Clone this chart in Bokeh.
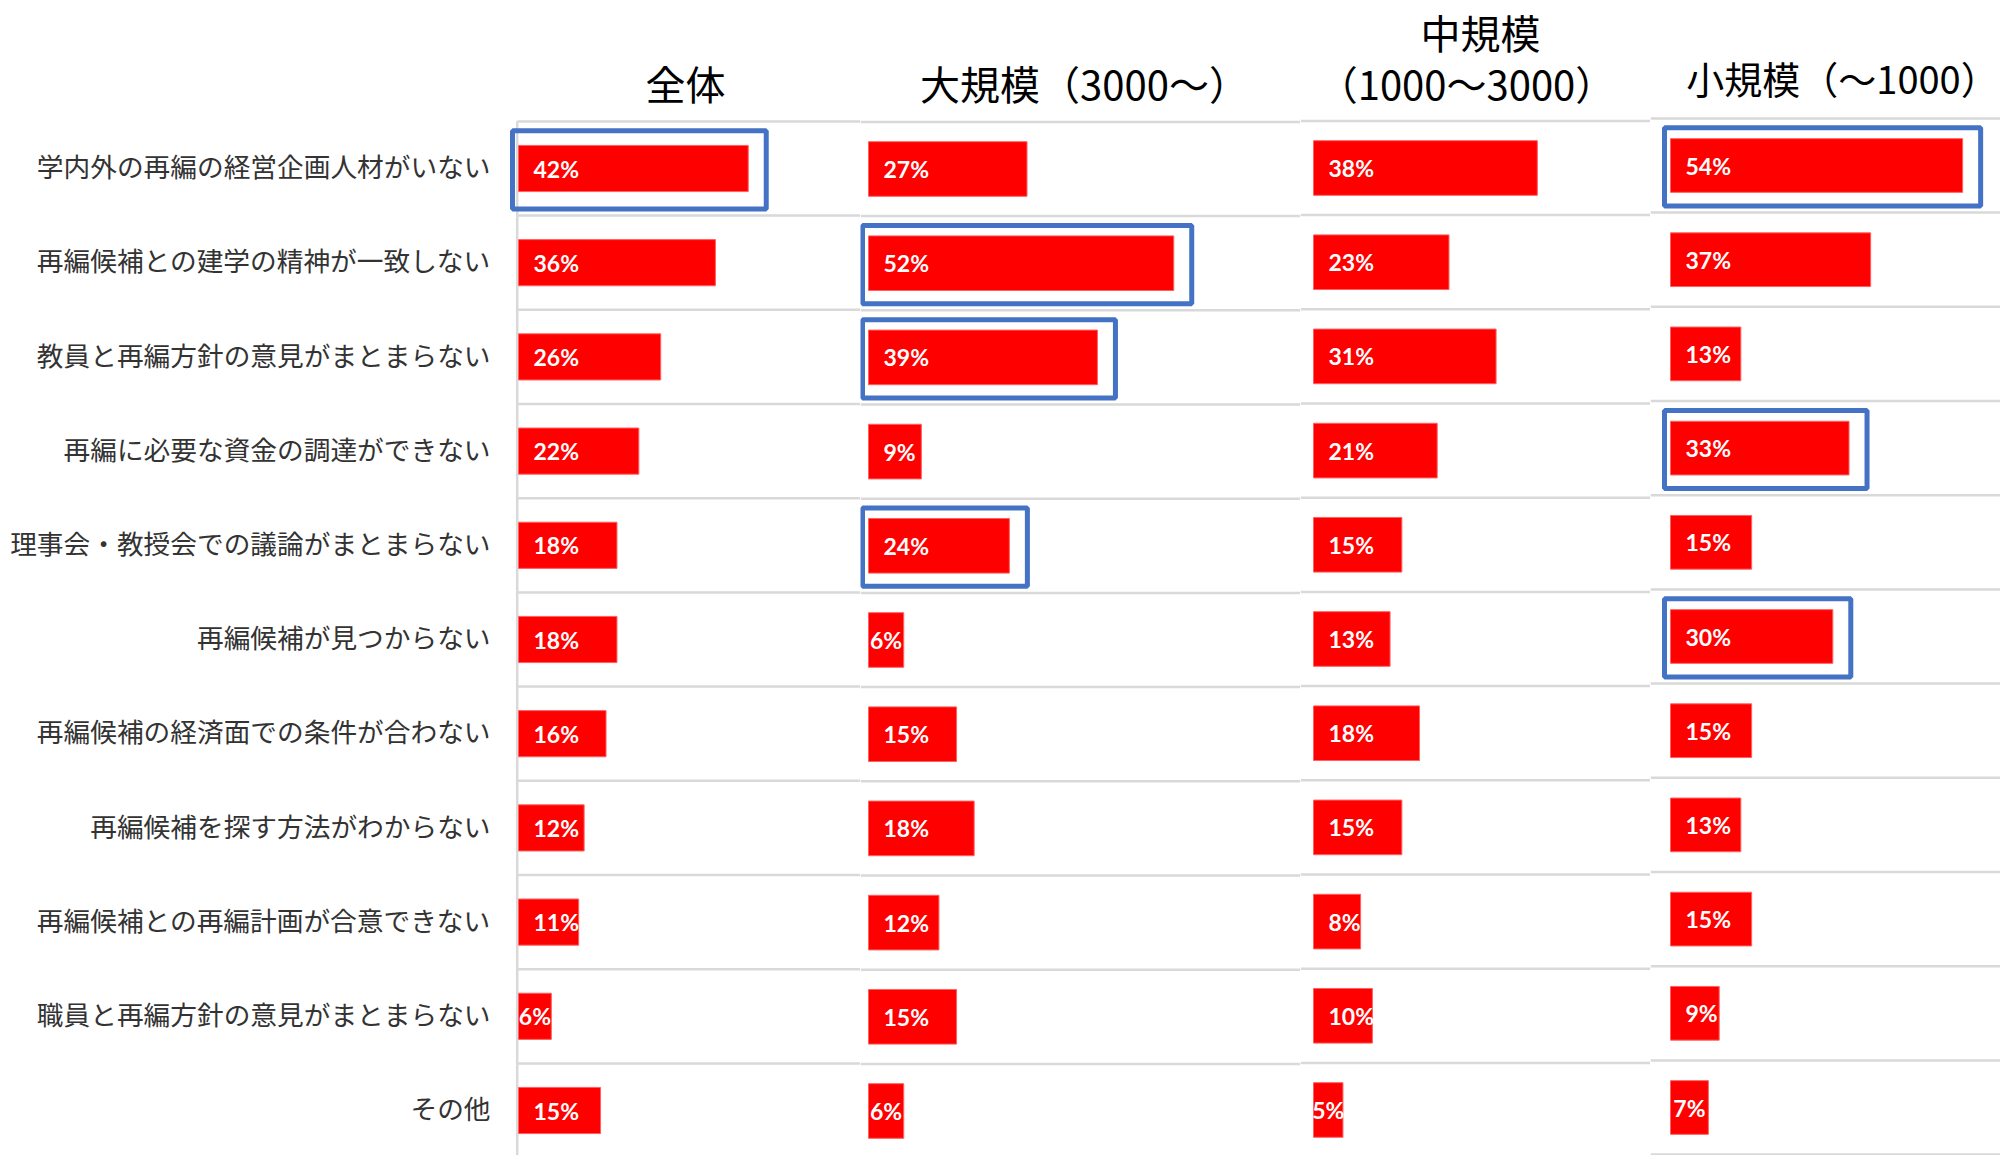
from bokeh.plotting import figure
from bokeh.models import Range1d, ColumnDataSource
from bokeh.layouts import row
from bokeh.embed import file_html
from bokeh.resources import INLINE
from bokeh.core.properties import value

# ---------------- data ----------------
categories = [
    "学内外の再編の経営企画人材がいない",
    "再編候補との建学の精神が一致しない",
    "教員と再編方針の意見がまとまらない",
    "再編に必要な資金の調達ができない",
    "理事会・教授会での議論がまとまらない",
    "再編候補が見つからない",
    "再編候補の経済面での条件が合わない",
    "再編候補を探す方法がわからない",
    "再編候補との再編計画が合意できない",
    "職員と再編方針の意見がまとまらない",
    "その他",
]
overall = [42, 36, 26, 22, 18, 18, 16, 12, 11, 6, 15]
large = [27, 52, 39, 9, 24, 6, 15, 18, 12, 15, 6]
medium = [38, 23, 31, 21, 15, 13, 18, 15, 8, 10, 5]
small = [54, 37, 13, 33, 15, 30, 15, 13, 15, 9, 7]
series = [overall, large, medium, small]
headers = [["全体"], ["大規模（3000～）"], ["中規模", "（1000～3000）"], ["小規模（～1000）"]]
highlights = [[0], [1, 2, 4], [], [0, 3, 5]]

# ---------------- layout / style ----------------
ROW_PX = 94.2
PAGE_H = 1155
CJK = "Noto Sans CJK JP"
NUM_FONT = "Lato"
frame_left = [0, 860, 1300, 1650]
# per panel: frame width, px of zero inside frame, px per %, row-0 centre (image y), bar height, header layout
panels = [
    dict(width=860, zero=518, scale=5.47, y0=168.0, bar_h=0.49,
         head_x=[685], head_y=[82.5], head_size="40px"),
    dict(width=440, zero=8, scale=5.87, y0=168.5, bar_h=0.58,
         head_x=[1084], head_y=[82.5], head_size="40px"),
    dict(width=350, zero=13, scale=5.89, y0=167.5, bar_h=0.58,
         head_x=[1480, 1466], head_y=[31.5, 82.5], head_size="40px"),
    dict(width=350, zero=20, scale=5.41, y0=165.0, bar_h=0.57,
         head_x=[1842], head_y=[77.0], head_size="38px"),
]

figs = []
n = len(categories)
ys = list(range(n))
for k, (vals, cfg) in enumerate(zip(series, panels)):
    sc = cfg["scale"]
    x0 = -cfg["zero"] / sc
    x1 = x0 + cfg["width"] / sc
    y_top = (0 - cfg["y0"]) / ROW_PX
    y_bot = (PAGE_H - cfg["y0"]) / ROW_PX
    p = figure(width=cfg["width"], height=PAGE_H, output_backend="svg",
               toolbar_location=None, x_range=Range1d(x0, x1),
               y_range=Range1d(y_bot, y_top), min_border=0)
    p.axis.visible = False
    p.grid.visible = False
    p.outline_line_color = None
    p.background_fill_color = "white"
    p.border_fill_color = "white"

    # row separators
    sep_start = (-1.3 / sc) if k == 0 else x0
    sep_y = [i - 0.5 for i in range(n + 1)]
    p.segment(x0=[sep_start] * len(sep_y), x1=[x1] * len(sep_y), y0=sep_y, y1=sep_y,
              line_color="#d9d9d9", line_width=2.5)
    if k == 0:
        p.segment(x0=[-1.3 / sc], x1=[-1.3 / sc], y0=[-0.5], y1=[y_bot],
                  line_color="#d9d9d9", line_width=2.5)

    src = ColumnDataSource(dict(y=ys, v=vals))
    p.hbar(y="y", left=0, right="v", height=cfg["bar_h"], source=src,
           fill_color="#ff0000", line_color="#ff6060", line_width=1)

    # value labels: inside base, centred when the bar is too short
    lx, ly, lt, lalign, loff = [], [], [], [], []
    for i, v in enumerate(vals):
        t = f"{v}%"
        lw = 14.5 * len(t)
        if v * sc >= lw + 15:
            lx.append(0); lalign.append("left"); loff.append(15)
        else:
            lx.append(v / 2); lalign.append("center"); loff.append(0)
        ly.append(i + 0.0); lt.append(t)
    lsrc = ColumnDataSource(dict(x=lx, y=ly, t=lt, a=lalign, o=loff))
    p.text(x="x", y="y", text="t", text_align="a", x_offset="o", source=lsrc,
           text_baseline="middle", text_color="white", text_font=value(NUM_FONT),
           text_font_style="bold", text_font_size="23px")

    # highlight boxes
    hl = highlights[k]
    if hl:
        p.quad(left=[-6 / sc] * len(hl), right=[vals[i] + 18 / sc for i in hl],
               top=[i - 0.40 for i in hl], bottom=[i + 0.43 for i in hl],
               fill_color=None, line_color="#4472C4", line_width=5)

    # headers
    hx = [(xf - (frame_left[k] + cfg["zero"])) / sc for xf in cfg["head_x"]]
    hy = [(yf - cfg["y0"]) / ROW_PX for yf in cfg["head_y"]]
    p.text(x=hx, y=hy, text=headers[k], text_align="center", text_baseline="middle",
           text_color="black", text_font=value(CJK), text_font_size=cfg["head_size"])

    # category labels (left of the first panel)
    if k == 0:
        p.text(x=[-28 / sc] * n, y=[i - 0.03 for i in ys], text=categories,
               text_align="right", text_baseline="middle", text_color="#333333",
               text_font=value(CJK), text_font_size="26.7px")
    figs.append(p)

layout = row(*figs, spacing=0)
open("out.html", "w").write(file_html(layout, INLINE))
